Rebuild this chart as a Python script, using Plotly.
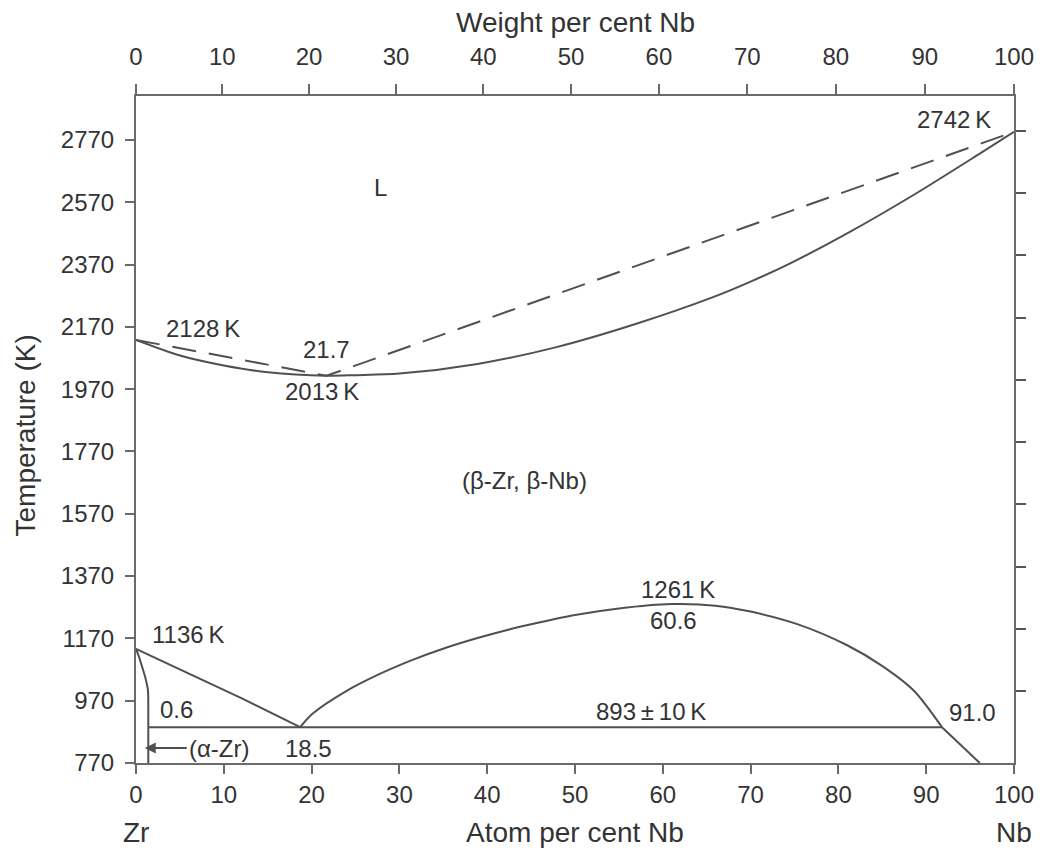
import plotly.graph_objects as go

# ---------------- data ----------------
# Liquidus (dashed)
liq_x = [0, 21.7, 100]
liq_T = [2128, 2013, 2796]

# Solidus (solid)
sol_x = [0, 5, 10, 15, 21.7, 25, 30, 38.9, 47.9, 56.9, 65.8, 70, 74.8, 81.0, 88.6, 96.1, 100]
sol_T = [2128, 2078, 2046, 2024, 2013, 2015, 2020, 2051, 2105, 2179, 2266, 2315, 2378, 2470, 2594, 2726, 2796]

# beta-Zr solvus (left branch of the monotectoid)
bzr_x = [0, 6, 12, 18.7]
bzr_T = [1136, 1058, 978, 885]

# Miscibility-gap dome
dome_x = [18.7, 20.1, 23.9, 27.7, 31.5, 35.3, 39.0, 42.4, 45.9, 50, 55, 61.0, 66, 70, 75.4, 81.0, 84.8, 88.6, 91.8]
dome_T = [885, 928, 1000, 1055, 1101, 1140, 1172, 1198, 1221, 1245, 1266, 1280, 1275, 1256, 1215, 1148, 1085, 1002, 885]

# beta-Nb boundary below the monotectoid
bnb_x = [91.8, 96.1]
bnb_T = [885, 770]

# alpha-Zr boundary
azr_x = [0, 0.35, 0.7, 1.1, 1.36, 1.4, 1.4]
azr_T = [1136, 1110, 1078, 1040, 1004, 960, 770]

# Monotectoid horizontal
mono_x = [1.4, 91.8]
mono_T = [885, 885]

# Axes
y_ticks = [770, 970, 1170, 1370, 1570, 1770, 1970, 2170, 2370, 2570, 2770]
y_right_ticks = [1000, 1200, 1400, 1600, 1800, 2000, 2200, 2400, 2600, 2800]
x_ticks = [0, 10, 20, 30, 40, 50, 60, 70, 80, 90, 100]
wt_ticks = [0, 10, 20, 30, 40, 50, 60, 70, 80, 90, 100]
M_ZR, M_NB = 91.224, 92.906

def wt_to_at(w):
    nb = w / M_NB
    zr = (100 - w) / M_ZR
    return 100 * nb / (nb + zr)

wt_pos = [wt_to_at(w) for w in wt_ticks]

Y_RANGE = [770, 2911]
LINE = "#505050"
AXC = "#6a6a6a"
TXT = "#333333"
FONT = "Liberation Sans, Arial, Helvetica, sans-serif"

fig = go.Figure()

def add_line(x, y, dash="solid", shape="linear"):
    fig.add_trace(go.Scatter(x=x, y=y, mode="lines", showlegend=False, hoverinfo="skip",
                             line=dict(color=LINE, width=2, dash=dash, shape=shape,
                                       smoothing=0.8 if shape == "spline" else None)))

add_line(liq_x, liq_T, dash="24px,13px")
add_line(sol_x, sol_T, shape="spline")
add_line(bzr_x, bzr_T)
add_line(dome_x, dome_T, shape="spline")
add_line(bnb_x, bnb_T)
add_line(azr_x, azr_T, shape="spline")
add_line(mono_x, mono_T)

# invisible traces to activate secondary axes
fig.add_trace(go.Scatter(x=[0], y=[770], xaxis="x2", yaxis="y", mode="markers",
                         marker=dict(opacity=0), showlegend=False, hoverinfo="skip"))
fig.add_trace(go.Scatter(x=[0], y=[770], xaxis="x", yaxis="y2", mode="markers",
                         marker=dict(opacity=0), showlegend=False, hoverinfo="skip"))

tickfont = dict(family=FONT, size=24, color=TXT)
fig.update_layout(
    width=1046, height=850,
    margin=dict(l=136, r=29, t=96, b=87),
    paper_bgcolor="white", plot_bgcolor="white",
    showlegend=False,
    xaxis=dict(range=[0, 100], tickvals=x_ticks, ticktext=[str(v) for v in x_ticks],
               ticks="outside", ticklen=9, tickwidth=1.5, tickcolor=AXC,
               showline=True, linecolor=AXC, linewidth=2, showgrid=False, zeroline=False,
               tickfont=tickfont),
    xaxis2=dict(range=[0, 100], overlaying="x", side="top", tickvals=wt_pos,
                ticktext=[str(v) for v in wt_ticks],
                ticks="outside", ticklen=10, tickwidth=1.5, tickcolor=AXC,
                showline=True, linecolor=AXC, linewidth=2, showgrid=False, zeroline=False,
                tickfont=tickfont, ticklabelstandoff=9),
    yaxis=dict(range=Y_RANGE, tickvals=y_ticks, ticktext=[str(v) for v in y_ticks],
               ticks="outside", ticklen=9, tickwidth=1.5, tickcolor=AXC,
               showline=True, linecolor=AXC, linewidth=2, showgrid=False, zeroline=False,
               tickfont=tickfont, ticklabelstandoff=6),
    yaxis2=dict(range=Y_RANGE, overlaying="y", side="right", tickvals=y_right_ticks,
                showticklabels=False,
                ticks="outside", ticklen=10, tickwidth=2, tickcolor="#555555",
                showline=True, linecolor=AXC, linewidth=2, showgrid=False, zeroline=False),
)

afont = dict(family=FONT, size=24, color=TXT)
labels = [
    ("L", 27.9, 2616),
    ("2128\u2009K", 7.6, 2166),
    ("21.7", 21.7, 2096),
    ("2013\u2009K", 21.2, 1961),
    ("2742\u2009K", 93.2, 2834),
    ("(\u03b2-Zr, \u03b2-Nb)", 44.2, 1678),
    ("1136\u2009K", 5.9, 1183),
    ("1261\u2009K", 61.7, 1328),
    ("60.6", 61.2, 1226),
    ("0.6", 4.6, 942),
    ("893\u2009\u00b1\u200910\u2009K", 58.6, 936),
    ("91.0", 95.3, 932),
    ("18.5", 19.6, 818),
]
for t, x, y in labels:
    fig.add_annotation(x=x, y=y, text=t, showarrow=False, font=afont,
                       xanchor="center", yanchor="middle")

# (alpha-Zr) with arrow
fig.add_annotation(x=1.0, y=818, text="(\u03b1-Zr)", showarrow=True, ax=42, ay=0,
                   xanchor="left", yanchor="middle", arrowhead=2, arrowsize=1.1,
                   arrowwidth=2, arrowcolor=LINE, font=afont, standoff=0)

# axis titles
tfont = dict(family=FONT, size=28, color=TXT)
fig.add_annotation(xref="paper", yref="paper", x=0.5, y=1, yshift=74, text="Weight per cent Nb",
                   showarrow=False, font=tfont, xanchor="center", yanchor="middle")
fig.add_annotation(xref="paper", yref="paper", x=0.5, y=0, yshift=-69, text="Atom per cent Nb",
                   showarrow=False, font=tfont, xanchor="center", yanchor="middle")
fig.add_annotation(xref="paper", yref="paper", x=0, y=0, yshift=-69, text="Zr",
                   showarrow=False, font=tfont, xanchor="center", yanchor="middle")
fig.add_annotation(xref="paper", yref="paper", x=1, y=0, yshift=-69, text="Nb",
                   showarrow=False, font=tfont, xanchor="center", yanchor="middle")
fig.add_annotation(xref="paper", yref="paper", x=0, xshift=-111, y=0.5, yshift=-6,
                   text="Temperature (K)", textangle=-90,
                   showarrow=False, font=tfont, xanchor="center", yanchor="middle")

fig.write_html("out.html")
